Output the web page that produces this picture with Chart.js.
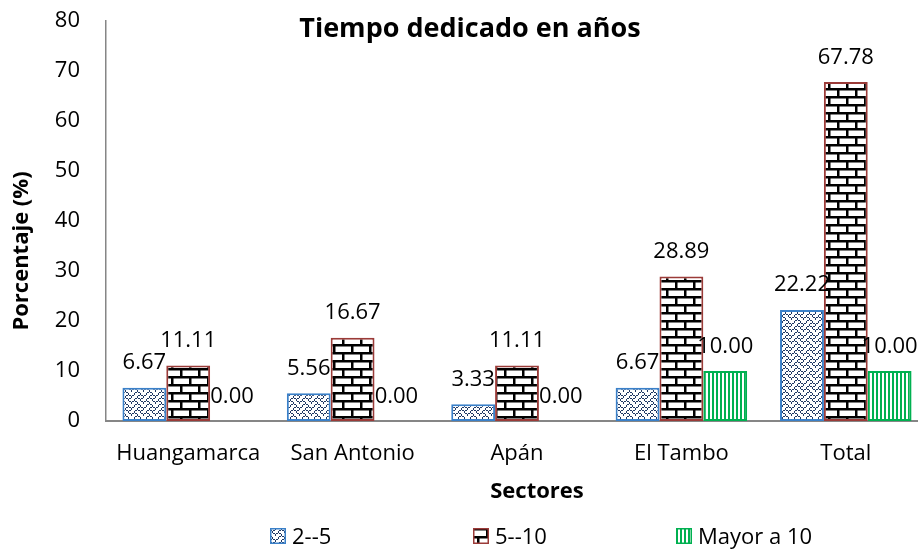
<!DOCTYPE html>
<html>
<head>
<meta charset="utf-8">
<script src="https://cdn.jsdelivr.net/npm/chart.js@4.4.0/dist/chart.umd.min.js"></script>
<style>
html, body { margin: 0; padding: 0; background: #fff; overflow: hidden; }
</style>
</head>
<body>
<canvas id="myChart" width="940" height="549"></canvas>
<script>
// data
const sectors = ['Huangamarca', 'San Antonio', 'Apán', 'El Tambo', 'Total'];
const seriesNames = ['2--5', '5--10', 'Mayor a 10'];
const years2to5 = [6.67, 5.56, 3.33, 6.67, 22.22];
const years5to10 = [11.11, 16.67, 11.11, 28.89, 67.78];
const yearsOver10 = [0.00, 0.00, 0.00, 10.00, 10.00];
const yTicks = [0, 10, 20, 30, 40, 50, 60, 70, 80];

const FONT = "'Open Sans', sans-serif";
Chart.defaults.font.family = FONT;
Chart.defaults.color = '#000';

// fill patterns, like the excel ones
function makeTile(w, h, draw) {
    const c = document.createElement('canvas');
    c.width = w;
    c.height = h;
    const g = c.getContext('2d');
    g.fillStyle = '#fff';
    g.fillRect(0, 0, w, h);
    draw(g);
    return c;
}

const weaveBits = [0x11, 0x2A, 0x44, 0xA2, 0x11, 0x28, 0x44, 0x8A];
const weaveTile = makeTile(12, 12, function(g) {
    g.fillStyle = '#1f3864';
    weaveBits.forEach(function(row, y) {
        const y0 = Math.round(y * 1.5), y1 = Math.round((y + 1) * 1.5);
        for (let x = 0; x < 8; x++) {
            if (!(row & (0x80 >> x))) continue;
            const x0 = Math.round(x * 1.5), x1 = Math.round((x + 1) * 1.5);
            g.fillRect(x0, y0, x1 - x0, y1 - y0);
        }
    });
});

const brickTile = makeTile(36, 16, function(g) {
    g.fillStyle = '#000';
    g.fillRect(0, 0, 36, 2.5);
    g.fillRect(0, 8, 36, 2.5);
    g.fillRect(0, 0, 2.5, 8);
    g.fillRect(18, 0, 2.5, 8);
    g.fillRect(9, 8, 2.5, 8);
    g.fillRect(27, 8, 2.5, 8);
});

const stripeTile = makeTile(4, 4, function(g) {
    g.fillStyle = '#00b050';
    g.fillRect(0, 0, 2, 4);
});

const ctx = document.getElementById('myChart').getContext('2d');
const fills = [
    ctx.createPattern(weaveTile, 'repeat'),
    ctx.createPattern(brickTile, 'repeat'),
    ctx.createPattern(stripeTile, 'repeat')
];
const borders = ['#3a80c9', '#9b3b38', '#00b050'];

// value labels above each bar
const valueLabels = {
    id: 'valueLabels',
    afterDatasetsDraw: function(chart) {
        const c = chart.ctx;
        c.save();
        c.font = '22px ' + FONT;
        c.fillStyle = '#000';
        c.textAlign = 'center';
        c.textBaseline = 'alphabetic';
        chart.data.datasets.forEach(function(ds, i) {
            chart.getDatasetMeta(i).data.forEach(function(bar, j) {
                c.fillText(ds.data[j].toFixed(2), bar.x, bar.y - 18.5);
            });
        });
        c.restore();
    }
};

// titles and legend drawn where excel put them
const extraText = {
    id: 'extraText',
    afterDraw: function(chart) {
        const c = chart.ctx;
        c.save();
        c.fillStyle = '#000';
        c.textBaseline = 'alphabetic';

        c.font = 'bold 27px ' + FONT;
        c.textAlign = 'center';
        c.fillText('Tiempo dedicado en años', 470, 37);

        c.font = 'bold 22px ' + FONT;
        c.fillText('Sectores', 537, 498);

        c.save();
        c.translate(28, 251);
        c.rotate(-Math.PI / 2);
        c.fillText('Porcentaje (%)', 0, 0);
        c.restore();

        const boxX = [270, 473, 676];
        c.font = '22px ' + FONT;
        c.textAlign = 'left';
        seriesNames.forEach(function(name, i) {
            c.fillStyle = fills[i];
            c.fillRect(boxX[i], 528, 16, 16);
            c.strokeStyle = borders[i];
            c.lineWidth = 1.5;
            c.strokeRect(boxX[i] + 0.75, 528.75, 14.5, 14.5);
            c.fillStyle = '#000';
            c.fillText(name, boxX[i] + 22, 544);
        });
        c.restore();
    }
};

new Chart(ctx, {
    type: 'bar',
    data: {
        labels: sectors,
        datasets: [
            { label: seriesNames[0], data: years2to5 },
            { label: seriesNames[1], data: years5to10 },
            { label: seriesNames[2], data: yearsOver10 }
        ].map(function(ds, i) {
            ds.backgroundColor = fills[i];
            ds.borderColor = borders[i];
            ds.borderWidth = 2;
            ds.borderSkipped = false;
            ds.categoryPercentage = 0.8;
            ds.barPercentage = 1.0;
            return ds;
        })
    },
    options: {
        responsive: false,
        animation: false,
        layout: {
            padding: { top: 21, right: 12, left: 0, bottom: 0 }
        },
        plugins: {
            legend: { display: false },
            tooltip: { enabled: false }
        },
        scales: {
            x: {
                grid: { display: false, drawTicks: false },
                border: { display: true, color: '#868686', width: 2 },
                ticks: {
                    font: { size: 22 },
                    color: '#000',
                    padding: 20,
                    maxRotation: 0,
                    autoSkip: false
                },
                afterFit: function(scale) {
                    scale.height = 128;
                    scale.paddingLeft = 0;
                    scale.paddingRight = 0;
                }
            },
            y: {
                min: 0,
                max: 80,
                afterBuildTicks: function(scale) {
                    scale.ticks = yTicks.map(function(v) { return { value: v }; });
                },
                grid: { display: false, drawTicks: false },
                border: { display: true, color: '#868686', width: 1.5 },
                ticks: {
                    font: { size: 22 },
                    color: '#000',
                    padding: 26
                },
                afterFit: function(scale) {
                    scale.width = 106;
                    scale.paddingTop = 0;
                    scale.paddingBottom = 0;
                }
            }
        }
    },
    plugins: [valueLabels, extraText]
});
</script>
</body>
</html>
